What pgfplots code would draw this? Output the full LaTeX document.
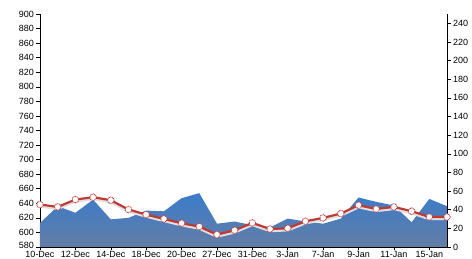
\documentclass[border=0pt]{standalone}
\usepackage{pgfplots}
\pgfplotsset{compat=1.18}
\usepackage{fontspec}
\setmainfont{Liberation Sans}
\definecolor{areatop}{RGB}{58,124,202}
\definecolor{areabot}{RGB}{100,125,166}
\definecolor{linered}{RGB}{190,58,54}
\begin{document}
\begin{tikzpicture}
\pgfplotsset{
  every axis/.style={
    scale only axis, width=407pt, height=233pt,
    xmin=0, xmax=23,
    tick align=outside,
    major tick length=3.5pt,
    tick style={black, line width=0.5pt},
    axis line style={black, line width=0.7pt},
    ticklabel style={font=\fontsize{9}{10}\selectfont},
    /pgf/number format/assume math mode=true,
    clip=false,
  }
}
\begin{axis}[
  name=ax1,
  axis x line*=bottom, axis y line*=left,
  ymin=580, ymax=900, ytick={580,600,...,900},
  yticklabels={\raisebox{2.5pt}{580},600,620,640,660,680,700,720,740,760,780,800,820,840,860,880,900},
  xtick={0,2,...,22},
  xticklabels={10-Dec,12-Dec,14-Dec,18-Dec,20-Dec,27-Dec,31-Dec,3-Jan,7-Jan,9-Jan,11-Jan,15-Jan},
  xticklabel style={yshift=3.2pt},
  yticklabel style={xshift=1pt},
]
\addplot[draw=none, top color=areatop, bottom color=areabot] coordinates {
(0,613) (1,636) (2,627) (3,645) (4,618) (5,620) (6,630) (7,629) (8,647) (9,654)
(10,612) (11,615) (12,610) (13,607) (14,619) (15,615) (16,612) (17,619) (18,648) (19,642)
(20,637) (21,614) (22,646) (23,636)
} \closedcycle;
\end{axis}
\begin{axis}[
  axis x line=none, axis y line*=right,
  ymin=0, ymax=250, ytick={0,20,...,240},
  yticklabel style={xshift=-1pt},
]
\addplot[line width=2.4pt, color=black!12, yshift=-2pt, mark=none] coordinates {
(0,45.6) (1,43.0) (2,50.9) (3,53.4) (4,50.2) (5,40.2) (6,34.8) (7,30.1) (8,25.5) (9,21.9)
(10,13.3) (11,17.9) (12,25.8) (13,19.3) (14,20.1) (15,27.6) (16,31.2) (17,35.9) (18,44.8) (19,40.8)
(20,43.0) (21,38.4) (22,32.2) (23,32.2)
};
\addplot[line width=2.2pt, color=linered, mark=*, mark size=3.3pt,
  mark options={fill=white, draw=linered, line width=0.9pt, dash pattern=on 0.8pt off 0.7pt}] coordinates {
(0,45.6) (1,43.0) (2,50.9) (3,53.4) (4,50.2) (5,40.2) (6,34.8) (7,30.1) (8,25.5) (9,21.9)
(10,13.3) (11,17.9) (12,25.8) (13,19.3) (14,20.1) (15,27.6) (16,31.2) (17,35.9) (18,44.8) (19,40.8)
(20,43.0) (21,38.4) (22,32.2) (23,32.2)
};
\end{axis}
\pgfresetboundingbox
\path ([shift={(-40pt,-12pt)}]ax1.south west) rectangle ([shift={(25pt,14pt)}]ax1.north east);
\end{tikzpicture}
\end{document}
